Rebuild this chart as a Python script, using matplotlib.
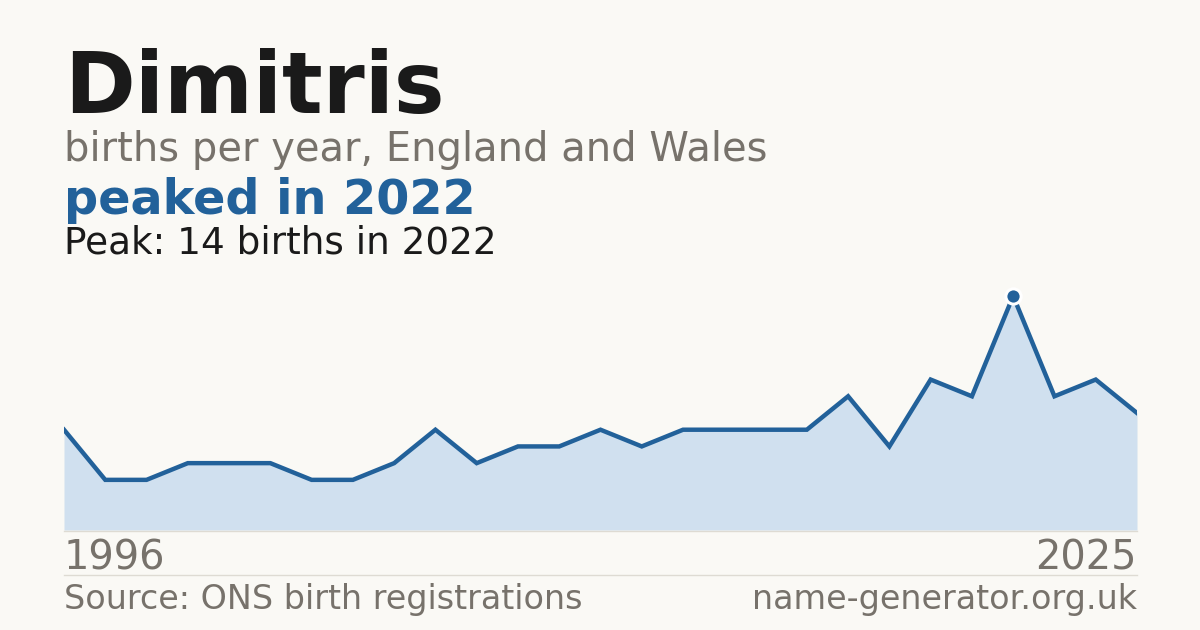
import numpy as np
import matplotlib
matplotlib.use("Agg")
from matplotlib import pyplot as plt
from matplotlib.lines import Line2D

# data (27 points, 1996-2025, some years absent)
years = [1996, 1997, 1998, 1999, 2001, 2002, 2003, 2004, 2005, 2006, 2007, 2008, 2009,
         2011, 2012, 2013, 2014, 2015, 2016, 2017, 2019, 2020, 2021, 2022, 2023, 2024, 2025]
births = [6, 3, 3, 4, 4, 4, 3, 3, 4, 6, 4, 5, 5, 6, 5, 6, 6, 6, 6, 8, 5, 9, 8, 14, 8, 9, 7]

name = "Dimitris"
subtitle = "births per year, England and Wales"
headline = "peaked in 2022"
peak_note = "Peak: 14 births in 2022"
source = "Source: ONS birth registrations"
site = "name-generator.org.uk"

bg = "#faf9f5"
blue = "#22619a"
fill_c = "#d0e0ef"
grey = "#77726b"
dark = "#1a1a1a"
rule = "#dedbd3"

W, H = 1200, 630
fig = plt.figure(figsize=(12, 6.3), dpi=100, facecolor=bg)
plt.rcParams['font.family'] = ['DejaVu Sans']

def fy(px):
    return 1 - px / H

left, right = 64, 1137
ax = fig.add_axes([left / W, fy(530), (right - left) / W, (530 - 280) / H])
ax.set_facecolor(bg)
x = np.arange(len(years))
y = np.array(births)
ax.fill_between(x, 0, y, color=fill_c, lw=0, zorder=1)
ax.plot(x, y, color=blue, lw=3.2, solid_joinstyle="miter", zorder=2)
pk = int(np.argmax(y))
ax.plot(x[pk], y[pk], "o", ms=11, color=blue, mec="white", mew=2.2, zorder=3)
ax.set_xlim(0, len(years) - 1)
ax.set_ylim(0, 14 * 250 / 234)
ax.axis("off")

# title block
fig.text(left / W, fy(113), name, fontsize=61.4, fontweight="bold", color=dark, va="baseline")
fig.text(left / W, fy(161), subtitle, fontsize=28.8, color=grey, va="baseline")
fig.text(left / W, fy(214), headline, fontsize=34.4, fontweight="bold", color=blue, va="baseline")
fig.text(left / W, fy(253), peak_note, fontsize=26.9, color=dark, va="baseline")

# axis labels and rules
fig.add_artist(Line2D([left / W, right / W], [fy(530.5), fy(530.5)], color=rule, lw=1))
fig.text(left / W, fy(569), str(years[0]), fontsize=28.7, color=grey, va="baseline")
fig.text(right / W, fy(569), str(years[-1]), fontsize=28.7, color=grey, va="baseline", ha="right")
fig.add_artist(Line2D([left / W, right / W], [fy(574.5), fy(574.5)], color=rule, lw=1))
fig.text(left / W, fy(609), source, fontsize=24, color=grey, va="baseline")
fig.text(right / W, fy(609), site, fontsize=24, color=grey, va="baseline", ha="right")

plt.savefig("out.png", dpi=100, facecolor=bg)
